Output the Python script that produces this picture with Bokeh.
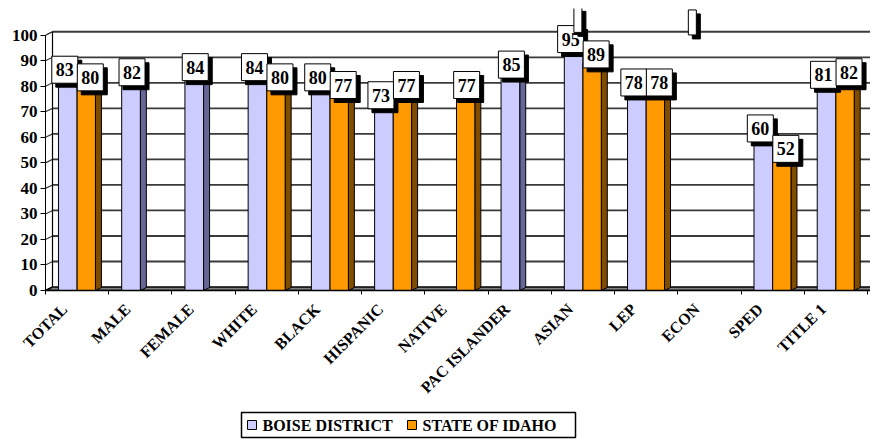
from bokeh.plotting import figure
from bokeh.layouts import column
from bokeh.models import Range1d, FixedTicker, LinearAxis
from bokeh.embed import file_html
from bokeh.resources import INLINE
from bokeh.core.properties import value

# ---------------- data ----------------
categories = ["TOTAL", "MALE", "FEMALE", "WHITE", "BLACK", "HISPANIC", "NATIVE",
              "PAC ISLANDER", "ASIAN", "LEP", "ECON", "SPED", "TITLE 1"]
boise = [83, 82, 84, 84, 80, 73, None, 85, 95, 78, None, 60, 81]
idaho = [80, None, None, 80, 77, 77, 77, None, 89, 78, None, 52, 82]
y_ticks = [0, 10, 20, 30, 40, 50, 60, 70, 80, 90, 100]
series_names = ["BOISE DISTRICT", "STATE OF IDAHO"]
# empty data-label boxes that show above the plot
blank_label_cats = ["ASIAN", "ECON"]
blank_label_offsets = [0.42, 0.23]
blank_label_levels = [106, 105]

# ---------------- layout ----------------
W, H, H_LEG = 870, 405, 34
B_LEFT, B_TOP, B_BOTTOM = 45, 8, 112
FRAME_W, FRAME_H = W - B_LEFT, H - B_BOTTOM - B_TOP
PX_X = 63.23          # pixels per category
PX_Y = 2.58           # pixels per value unit
X_END = FRAME_W / PX_X
Y_END = FRAME_H / PX_Y

WALL_DX, WALL_DY = 7 / PX_X, 3.5 / PX_Y
BAR_DX, BAR_DY = 6 / PX_X, 3 / PX_Y
SLOT0, SLOTM, SLOT1 = 0.205, 0.50, 0.79
LABEL_SHIFT = 0.30

SERIF = '"Liberation Serif", "Times New Roman", serif'
FONT = value(SERIF)
BOISE_FRONT, BOISE_SIDE = "#CCCCFF", "#666699"
IDAHO_FRONT, IDAHO_SIDE = "#FF9900", "#7F4C00"
GRID = "#3a3a3a"

p = figure(width=W, height=H, output_backend="svg", toolbar_location=None,
           x_range=Range1d(0, X_END), y_range=Range1d(0, Y_END),
           x_axis_location=None, min_border_left=B_LEFT, min_border_bottom=B_BOTTOM,
           min_border_top=B_TOP, min_border_right=0)
p.outline_line_color = None
p.xgrid.visible = False
p.ygrid.visible = False
p.background_fill_color = "white"

# ---- walls ----
top = 100
p.patch([0, 0, WALL_DX, WALL_DX], [0, top, top + WALL_DY, WALL_DY],
        fill_color="white", line_color="black", line_width=1)
gy = [v + WALL_DY for v in y_ticks[1:]]
p.segment(x0=[WALL_DX] * len(gy), y0=gy, x1=[X_END + 1] * len(gy), y1=gy,
          line_color=GRID, line_width=1.8)
p.segment(x0=[0] * len(y_ticks), y0=y_ticks, x1=[WALL_DX] * len(y_ticks),
          y1=[v + WALL_DY for v in y_ticks], line_color=GRID, line_width=1.2)
p.segment(x0=[WALL_DX], y0=[WALL_DY], x1=[WALL_DX], y1=[top + WALL_DY],
          line_color="black", line_width=1.2)
# floor
p.patch([0, 14, 14 + WALL_DX, WALL_DX], [0, 0, WALL_DY, WALL_DY],
        fill_color="#808080", line_color="black", line_width=1.5)

# ---- bars ----
def draw_series(vals, s0, s1, front, side):
    xs_l, xs_r, tops, sx, sy, tx, ty = [], [], [], [], [], [], []
    for i, v in enumerate(vals):
        if v is None:
            continue
        x0, x1 = i + s0, i + s1
        xs_l.append(x0); xs_r.append(x1); tops.append(v)
        sx.append([x1, x1 + BAR_DX, x1 + BAR_DX, x1])
        sy.append([0, BAR_DY, v + BAR_DY, v])
        tx.append([x0, x1, x1 + BAR_DX, x0 + BAR_DX])
        ty.append([v, v, v + BAR_DY, v + BAR_DY])
    p.patches(sx, sy, fill_color=side, line_color="black", line_width=1)
    p.patches(tx, ty, fill_color=front, line_color="black", line_width=1)
    p.quad(left=xs_l, right=xs_r, bottom=[0] * len(tops), top=tops,
           fill_color=front, line_color="black", line_width=1)

draw_series(boise, SLOT0, SLOTM, BOISE_FRONT, BOISE_SIDE)
draw_series(idaho, SLOTM, SLOT1, IDAHO_FRONT, IDAHO_SIDE)

# ---- data labels ----
def draw_labels(vals, other, s0, s1, dx_pair):
    lx, ly, lt = [], [], []
    for i, v in enumerate(vals):
        if v is None:
            continue
        c = i + (s0 + s1) / 2
        dx = dx_pair if other[i] is not None else 1
        lx.append(c + dx / PX_X)
        ly.append(v + 9 / PX_Y)
        lt.append(str(v))
    p.rect([x + 4 / PX_X for x in lx], [y - 4 / PX_Y for y in ly], width=26, height=27,
           width_units="screen", height_units="screen", fill_color="black", line_color="black")
    p.rect(lx, ly, width=26, height=27, width_units="screen", height_units="screen",
           fill_color="white", line_color="black", line_width=1)
    p.text(lx, ly, text=lt, text_font=FONT, text_font_style="bold", text_font_size="18px",
           text_align="center", text_baseline="middle", text_color="black")

draw_labels(boise, idaho, SLOT0, SLOTM, -3)
draw_labels(idaho, boise, SLOTM, SLOT1, 4)

# empty label boxes
bx = [categories.index(c) + o for c, o in zip(blank_label_cats, blank_label_offsets)]
p.rect([x + 4 / PX_X for x in bx], [y - 4 / PX_Y for y in blank_label_levels], width=8, height=25,
       width_units="screen", height_units="screen", fill_color="black", line_color="black")
p.rect(bx, blank_label_levels, width=8, height=25, width_units="screen", height_units="screen",
       fill_color="white", line_color="black", line_width=1)

# ---- axes ----
p.yaxis.ticker = FixedTicker(ticks=y_ticks)
p.yaxis.bounds = (0, 100)
p.yaxis.major_tick_out = 5
p.yaxis.major_tick_in = 0
p.yaxis.minor_tick_line_color = None
p.yaxis.axis_line_color = "black"
p.yaxis.major_label_standoff = 3
p.yaxis.major_label_text_font = SERIF
p.yaxis.major_label_text_font_style = "bold"
p.yaxis.major_label_text_font_size = "17px"
p.yaxis.major_label_text_color = "black"

p.extra_x_ranges = {"lab": Range1d(-LABEL_SHIFT, X_END - LABEL_SHIFT)}
xa = LinearAxis(x_range_name="lab")
xa.ticker = FixedTicker(ticks=list(range(len(categories))),
                        minor_ticks=[k - LABEL_SHIFT for k in range(len(categories) + 1)])
xa.major_label_overrides = {i: c for i, c in enumerate(categories)}
xa.major_label_orientation = 0.785398
xa.major_tick_out = 0
xa.major_tick_in = 0
xa.major_tick_line_color = None
xa.minor_tick_out = 4
xa.minor_tick_in = 0
xa.minor_tick_line_color = "black"
xa.axis_line_color = "black"
xa.axis_line_width = 1.5
xa.major_label_standoff = 12
xa.major_label_text_font = SERIF
xa.major_label_text_font_style = "bold"
xa.major_label_text_font_size = "16px"
xa.major_label_text_color = "black"
p.add_layout(xa, "below")

# ---- legend (own strip below the chart, page-pixel coordinates) ----
q = figure(width=W, height=H_LEG, output_backend="svg", toolbar_location=None,
           x_range=Range1d(B_LEFT, W), y_range=Range1d(0, H_LEG),
           x_axis_location=None, y_axis_location=None,
           min_border_left=B_LEFT, min_border_right=0, min_border_top=0, min_border_bottom=0)
q.outline_line_color = None
q.xgrid.visible = False
q.ygrid.visible = False
LEG_X0, LEG_X1, LEG_Y0, LEG_Y1 = 241, 575, 2, 27
LEG_ITEM_X = [247, 407]
legend_colors = [BOISE_FRONT, IDAHO_FRONT]
ymid = (LEG_Y0 + LEG_Y1) / 2
q.quad(left=[LEG_X0], right=[LEG_X1], bottom=[LEG_Y0], top=[LEG_Y1],
       fill_color="white", line_color="black", line_width=1.5)
q.quad(left=LEG_ITEM_X, right=[x + 9 for x in LEG_ITEM_X], bottom=[ymid - 4.5] * 2,
       top=[ymid + 4.5] * 2, fill_color=legend_colors, line_color="black", line_width=1)
q.text([x + 15 for x in LEG_ITEM_X], [ymid] * 2, text=series_names, text_font=FONT,
       text_font_style="bold", text_font_size="16px", text_align="left",
       text_baseline="middle", text_color="black")

open("out.html", "w").write(file_html(column(p, q), INLINE))
